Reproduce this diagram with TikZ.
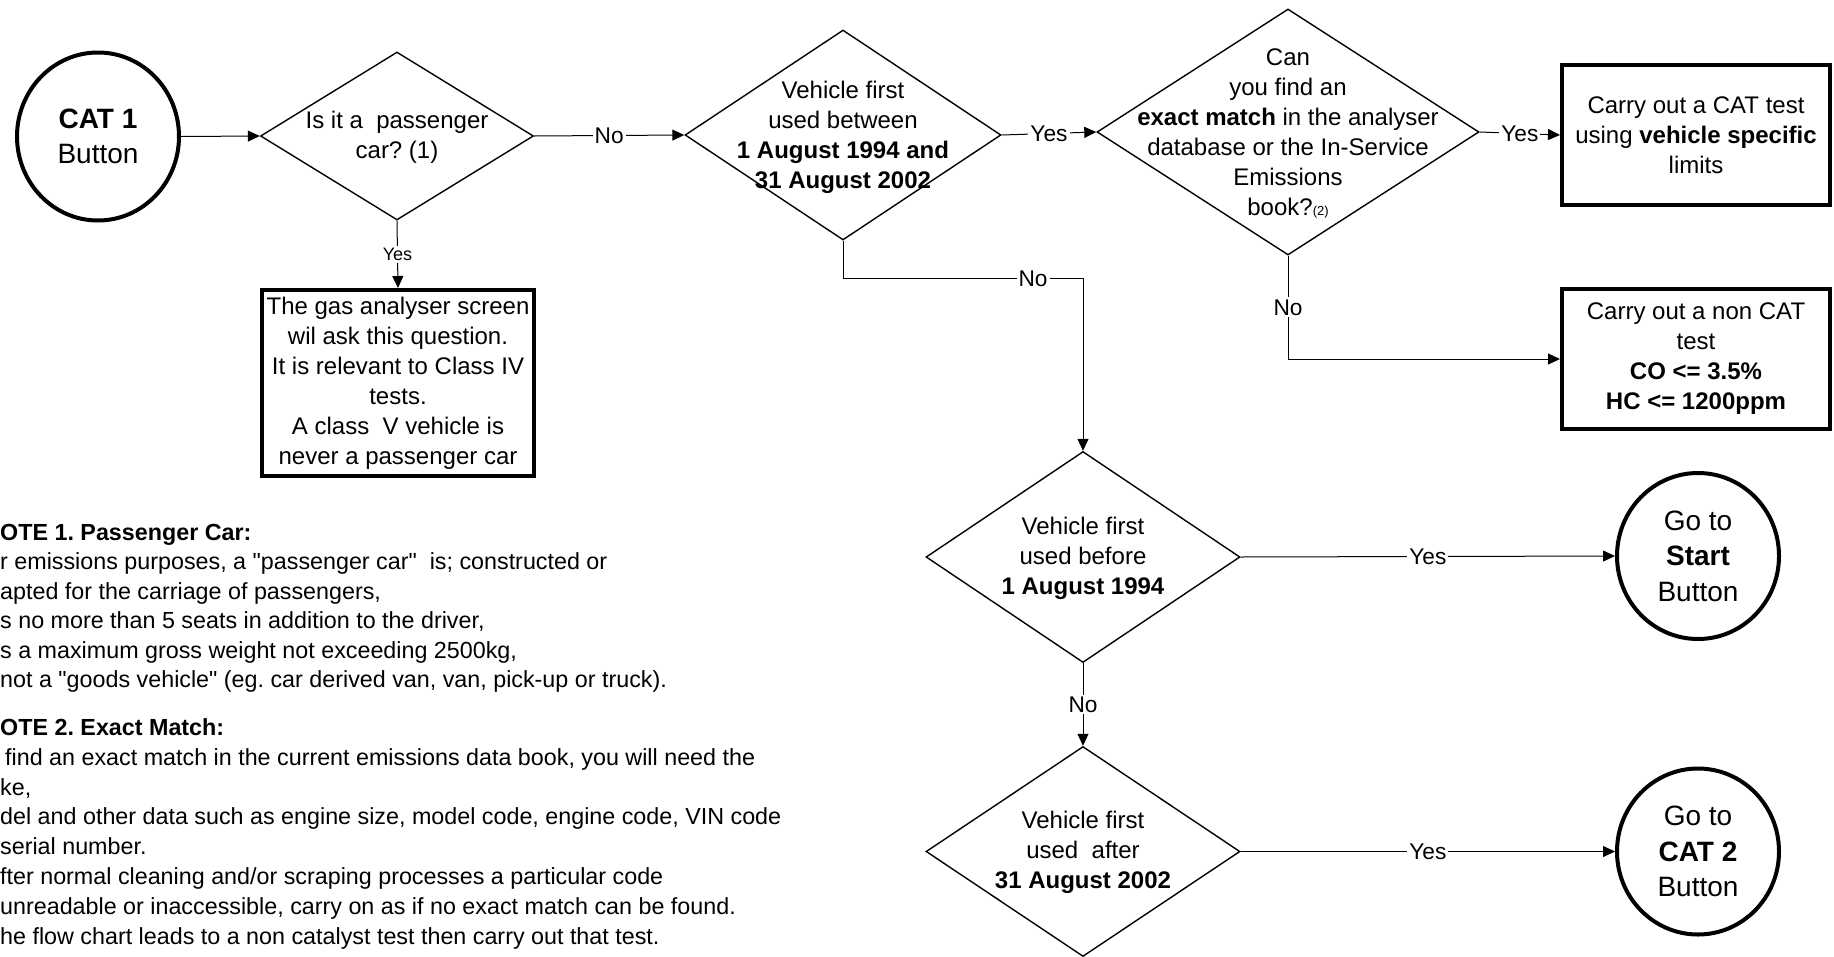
\documentclass[tikz,border=0pt]{standalone}
\usepackage{fontspec}
\setmainfont{Liberation Sans}[Ligatures=TeXOff]
\usetikzlibrary{shapes.geometric,arrows.meta}
\newcommand{\sq}{\symbol{34}}
\begin{document}
\frenchspacing
\begin{tikzpicture}[x=1pt,y=-1pt,
  txt/.style={font=\fontsize{24}{30}\selectfont, align=center, inner sep=0pt},
  dia/.style={draw, diamond, inner sep=0pt, line width=1.4pt},
  btn/.style={draw, ellipse, line width=4pt, inner sep=0pt, align=center, font=\fontsize{28}{35.5}\selectfont},
  box/.style={draw, rectangle, line width=4pt, inner sep=0pt, align=center, font=\fontsize{24}{30}\selectfont},
  arr/.style={-{Triangle[length=12pt,width=11pt]}, line width=1pt},
  lbl/.style={fill=white, inner sep=2pt, font=\fontsize{22.7}{27}\selectfont},
  slbl/.style={fill=white, inner sep=2pt, font=\fontsize{18}{22}\selectfont},
  note/.style={align=left, inner sep=0pt, anchor=north west}
]
\useasboundingbox (0,0) rectangle (1834,956);

% buttons
\node[btn, minimum width=162pt, minimum height=168pt] (cat1) at (98,136.5) {\textbf{CAT 1}\\Button};
\node[btn, minimum width=162pt, minimum height=166pt] (start) at (1698,556) {Go to\\\textbf{Start}\\Button};
\node[btn, minimum width=162pt, minimum height=166pt] (cat2) at (1698,851.5) {Go to\\\textbf{CAT 2}\\Button};

% diamonds
\node[dia, minimum width=273pt, minimum height=168pt] (d1) at (397,136) {};
\node[txt] (d1t) at (397,137) {Is it a\ \ passenger\\car? (1)};
\node[dia, minimum width=316pt, minimum height=210pt] (d2) at (843,135) {};
\node[txt] (d2t) at (843,137) {Vehicle first\\used between\\\textbf{1 August 1994 and}\\\textbf{31 August 2002}};
\node[dia, minimum width=382pt, minimum height=246pt] (d3) at (1288,132) {};
\node[txt] (d3t) at (1288,133) {Can\\you find an\\\textbf{exact match} in the analyser\\database or the In-Service\\Emissions\\book?{\fontsize{13}{15}\selectfont(2)}};
\node[dia, minimum width=314pt, minimum height=211pt] (d4) at (1083,557) {};
\node[txt] (d4t) at (1083,558) {Vehicle first\\used before\\\textbf{1 August 1994}};
\node[dia, minimum width=314pt, minimum height=210pt] (d5) at (1083,851.5) {};
\node[txt] (d5t) at (1083,852) {Vehicle first\\used\ \ after\\\textbf{31 August 2002}};

% boxes
\node[box, minimum width=272pt, minimum height=186pt] (b1) at (398,383) {The gas analyser screen\\wil ask this question.\\It is relevant to Class IV\\tests.\\A class\ \ V vehicle is\\never a passenger car};
\node[box, minimum width=268pt, minimum height=140pt] (b2) at (1696,135) {Carry out a CAT test\\using \textbf{vehicle specific}\\limits};
\node[box, minimum width=268pt, minimum height=140pt] (b3) at (1696,359) {Carry out a non CAT\\test\\\textbf{CO <= 3.5\%}\\\textbf{HC <= 1200ppm}};

% connectors
\draw[arr] (cat1.east) -- (d1.west);
\draw[arr] (d1.east) -- node[lbl]{No} (d2.west);
\draw[arr] (d1.south) -- node[slbl]{Yes} (b1.north);
\draw[arr] (d2.east) -- node[lbl]{Yes} (d3.west);
\draw[arr] (d3.east) -- node[lbl]{Yes} (b2.west);
\draw[arr] (d2.south) -- ++(0,38) -| node[lbl,pos=0.396]{No} (d4.north);
\draw[arr] (d3.south) |- node[lbl,pos=0.25]{No} (b3.west);
\draw[arr] (d4.east) -- node[lbl]{Yes} (start.west);
\draw[arr] (d4.south) -- node[lbl]{No} (d5.north);
\draw[arr] (d5.east) -- node[lbl]{Yes} (cat2.west);

% notes
\node[note, font=\fontsize{23.3}{29.4}\selectfont] (n1) at (0,524) {\textbf{OTE 1. Passenger Car:}\\
r emissions purposes, a \sq passenger car\sq\ \ is; constructed or\\
apted for the carriage of passengers,\\
s no more than 5 seats in addition to the driver,\\
s a maximum gross weight not exceeding 2500kg,\\
not a \sq goods vehicle\sq\ (eg. car derived van, van, pick-up or truck).};
\node[note, font=\fontsize{23.3}{29.8}\selectfont] (n2) at (0,718.5) {\textbf{OTE 2. Exact Match:}\\
\hspace*{5pt}find an exact match in the current emissions data book, you will need the\\
ke,\\
del and other data such as engine size, model code, engine code, VIN code\\
serial number.\\
fter normal cleaning and/or scraping processes a particular code\\
unreadable or inaccessible, carry on as if no exact match can be found.\\
he flow chart leads to a non catalyst test then carry out that test.};
\end{tikzpicture}
\end{document}
